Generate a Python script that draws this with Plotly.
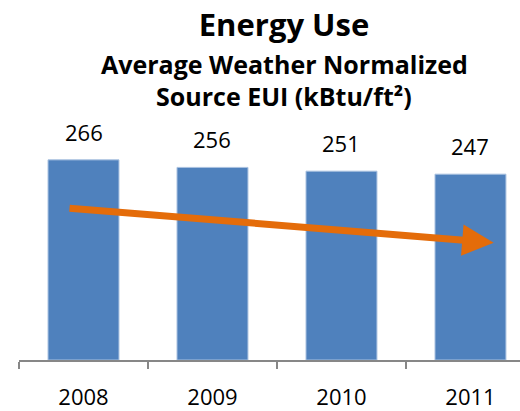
import plotly.graph_objects as go

# chart data
years = ["2008", "2009", "2010", "2011"]
eui = [266, 256, 251, 247]

# trend arrow endpoints (category index, value)
arrow_start = (-0.12, 202)
arrow_end = (3.18, 156)

FONT = "Open Sans"
BAR_BLUE = "#4F81BD"
ORANGE = "#E46C0A"

fig = go.Figure()

fig.add_trace(go.Bar(
    x=years,
    y=eui,
    width=0.55,
    marker=dict(color=BAR_BLUE, line=dict(color="#A9C1E0", width=1)),
    hoverinfo="x+y",
))

# value labels above bars (category axis -> use serial index)
for i, v in enumerate(eui):
    fig.add_annotation(
        x=i, y=v, text=str(v), showarrow=False,
        yanchor="bottom", yshift=11,
        font=dict(family=FONT, size=22, color="#000000"),
    )

# downward trend arrow
fig.add_annotation(
    x=arrow_end[0], y=arrow_end[1],
    ax=arrow_start[0], ay=arrow_start[1],
    xref="x", yref="y", axref="x", ayref="y",
    text="", showarrow=True,
    arrowhead=2, arrowsize=0.9, arrowwidth=7,
    arrowcolor=ORANGE, standoff=0,
)

# subtitle lines
for txt, yy in [("Average Weather Normalized", 1.235),
                ("Source EUI (kBtu/ft²)", 1.10)]:
    fig.add_annotation(
        x=0.529, y=yy, xref="paper", yref="paper",
        text="<b>" + txt + "</b>", showarrow=False,
        xanchor="center", yanchor="middle",
        font=dict(family=FONT, size=25, color="#000000"),
    )

fig.update_layout(
    width=520,
    height=411,
    margin=dict(l=19, r=0, t=120, b=44),
    paper_bgcolor="white",
    plot_bgcolor="white",
    showlegend=False,
    title=dict(
        text="<b>Energy Use</b>",
        x=284 / 520, xanchor="center",
        y=1 - 25 / 411, yanchor="middle",
        font=dict(family=FONT, size=31, color="#000000"),
    ),
    xaxis=dict(
        type="category",
        range=[-0.5, 3.384],
        tickson="boundaries",
        ticks="outside",
        ticklen=7,
        tickwidth=1.5,
        tickcolor="#878787",
        showline=True,
        linecolor="#878787",
        linewidth=1.5,
        showgrid=False,
        ticklabelstandoff=17,
        tickfont=dict(family=FONT, size=22, color="#000000"),
    ),
    yaxis=dict(
        range=[0, 319],
        visible=False,
        showgrid=False,
    ),
)

fig.write_html("out.html", config={"displayModeBar": False},
               post_script="document.body.style.margin='0';")
